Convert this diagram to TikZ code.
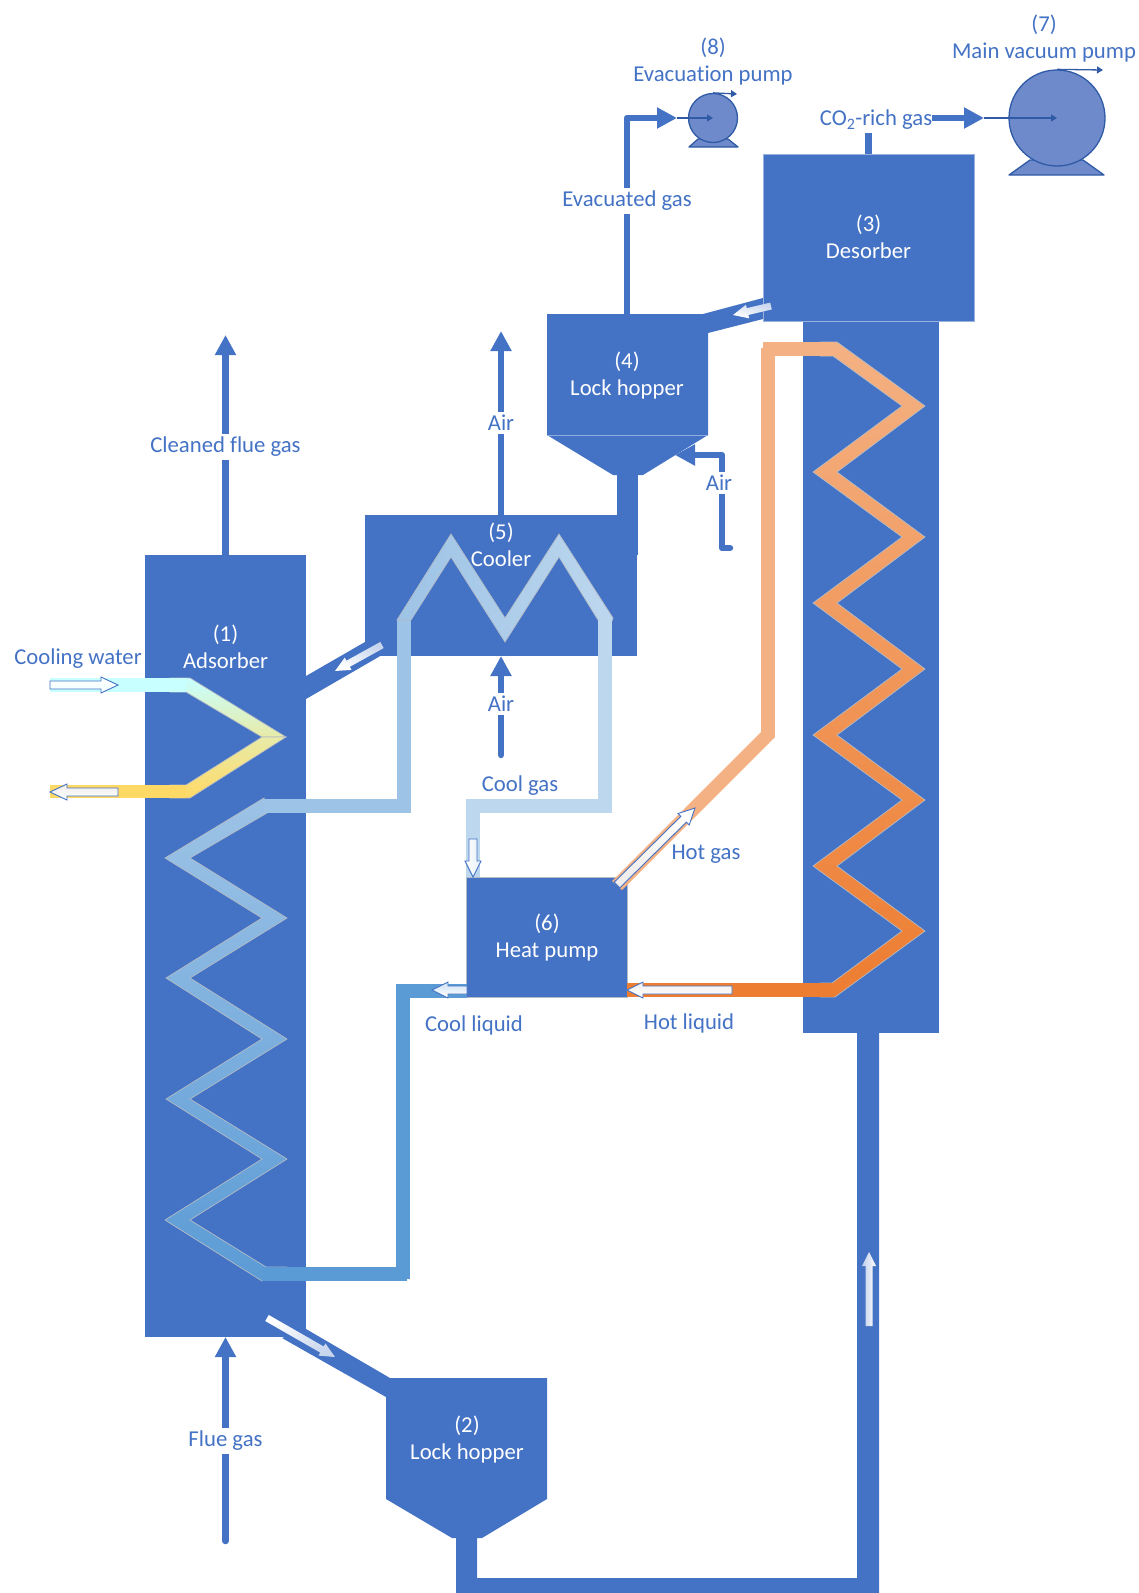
\documentclass[tikz,border=0pt]{standalone}
\usepackage{fontspec}
\setmainfont[Ligatures=CommonOff]{Carlito}
\usetikzlibrary{arrows.meta,calc}
\definecolor{mainblue}{HTML}{4472C4}
\definecolor{pumpfill}{HTML}{6F8ACB}
\definecolor{pumpline}{HTML}{2F5AA6}
\definecolor{coiledge}{HTML}{B4BBC6}
\definecolor{watercold}{HTML}{C8FFFF}
\definecolor{watermid}{HTML}{E8EBA8}
\definecolor{waterhot}{HTML}{FFD966}
\definecolor{liqcool}{HTML}{5B9BD5}
\definecolor{liqmid}{HTML}{9DC3E6}
\definecolor{gascool}{HTML}{BDD7EE}
\definecolor{gashot}{HTML}{F4B183}
\definecolor{liqhot}{HTML}{ED7D31}
\tikzset{
  unit/.style={fill=mainblue,draw=none,inner sep=0pt,outer sep=0pt},
  wtext/.style={text=white,align=center,font=\fontsize{22.7}{27}\selectfont,inner sep=0pt},
  btext/.style={text=mainblue,align=center,font=\fontsize{22.7}{27}\selectfont,inner sep=1pt},
  gaptext/.style={btext,fill=white,inner ysep=3pt,inner xsep=2pt},
  flow/.style={draw=mainblue,line width=6.5pt,line join=round,-{Triangle[width=20pt,length=20pt]}},
  flowround/.style={flow,line cap=round},
  thinflow/.style={draw=pumpline,line width=1.3pt,-{Triangle[width=7pt,length=6pt]}},
  pumpbody/.style={fill=pumpfill,draw=pumpline,line width=1.3pt,line join=round},
  coil/.style={draw=coiledge,line width=0.7pt,line join=miter},
  hollow/.style={draw=mainblue,line width=0.9pt},
}
% opts, x1,y1,x2,y2, shaft half, head half, head length
\newcommand{\blockarrow}[8]{%
  \pgfmathsetmacro\bang{atan2(-(#5-#3),#4-#2)}%
  \pgfmathsetmacro\blen{veclen(#4-#2,#5-#3)}%
  \pgfmathsetmacro\bneck{\blen-#8}%
  \begin{scope}[shift={(#2,#3)},rotate=\bang]
    \path[#1,shading angle=-\bang] (0,-#6) -- (\bneck,-#6) -- (\bneck,-#7) -- (\blen,0) -- (\bneck,#7) -- (\bneck,#6) -- (0,#6) -- cycle;
  \end{scope}}
\begin{document}
\begin{tikzpicture}[x=1pt,y=-1pt]
\useasboundingbox (0,0) rectangle (1138,1593);

% ---- bodies of the units
\node[unit,minimum width=161pt,minimum height=782pt] (adsorber) at (225.5,946) {};
\node[unit,minimum width=136pt,minimum height=713pt] (column) at (871,676.5) {};
\node[unit,minimum width=272pt,minimum height=141pt] (cooler) at (501,585.5) {};
\fill[mainblue] (617,475) rectangle (638,555);
% lock hopper 4
\fill[mainblue] (547,314) -- (708,314) -- (708,435) -- (643,475) -- (613,475) -- (547,435) -- cycle;
\draw[white!40!mainblue,line width=0.5pt] (547,435) -- (708,435);
% lock hopper 2
\fill[mainblue] (386,1378) -- (547,1378) -- (547,1499) -- (482,1538) -- (452,1538) -- (386,1499) -- cycle;
% solids transfer bands
\fill[mainblue] (306,1329) -- (390,1378) -- (386,1397) -- (282,1338) -- cycle;
\fill[mainblue] (306,676) -- (365,642) -- (382,655) -- (306,699) -- cycle;
\fill[mainblue] (703,314) -- (763,298) -- (763,319) -- (708,333) -- cycle;
% solids return pipe
\fill[mainblue] (456,1538) -- (477,1538) -- (477,1578) -- (857,1578) -- (857,1033) -- (879,1033) -- (879,1593) -- (456,1593) -- cycle;
% desorber
\fill[mainblue] (865,133) rectangle (872,154);
\node[unit,draw=white!45!mainblue,line width=1pt,minimum width=211pt,minimum height=167pt] (desorber) at (868.5,237.5) {};
% heat pump
\node[unit,draw=coiledge,line width=0.8pt,minimum width=161pt,minimum height=120pt] (heatpump) at (546.5,937) {};

% ---- cooling water coil
\path[coil,top color=watercold,bottom color=watermid]
  (170,678) -- (190,678) -- (286,737) -- (262,737) -- (186,692) -- (170,692) -- cycle;
\path[coil,top color=watermid,bottom color=waterhot]
  (170,785) -- (186,785) -- (262,737) -- (286,737) -- (190,798) -- (170,798) -- cycle;
\fill[watercold] (50,678) rectangle (186,692);
\fill[waterhot] (50,785) rectangle (186,798);

% ---- adsorber heat pump coil
\path[coil,top color=liqmid,bottom color=liqcool]
  (264,798) -- (165,858) -- (262,918) -- (166,978) -- (262,1039) -- (166,1099) -- (262,1159) -- (165,1220) -- (262,1281)
  -- (286,1267) -- (266,1267) -- (190,1220) -- (287,1159) -- (190,1099) -- (287,1039) -- (190,978) -- (287,918) -- (190,858) -- (267,813) -- cycle;
\fill[liqmid] (264,799) rectangle (411,813);
\fill[liqmid] (397,620) rectangle (411,813);
\fill[liqcool] (262,1267) rectangle (407,1281);
\fill[liqcool] (396,984) rectangle (410,1279);
\fill[liqcool] (396,984) rectangle (467,998);

% ---- cooler coil
\path[coil,left color=liqmid,right color=gascool]
  (397,620) -- (451,534) -- (505,618) -- (559,534) -- (613,618) -- (612,621) -- (598,620) -- (559,557) -- (505,642) -- (451,557) -- (411,620) -- cycle;
\fill[gascool] (598,620) rectangle (612,813);
\fill[gascool] (466,799) rectangle (612,813);
\fill[gascool] (466,799) rectangle (480,877);

% ---- desorber heat pump coil
\path[coil,top color=gashot,bottom color=liqhot]
  (837,342) -- (925,406) -- (837,472) -- (925,537) -- (837,603) -- (925,669) -- (837,735) -- (925,800) -- (837,866) -- (925,931) -- (835,997)
  -- (820,997) -- (820,983) -- (832,983) -- (902,931) -- (813,866) -- (902,800) -- (813,735) -- (902,669) -- (813,603) -- (902,537) -- (813,472) -- (902,406) -- (833,356) -- (820,356) -- (820,342) -- cycle;
\fill[gashot] (761,348) rectangle (775,737);
\fill[gashot] (763,342) rectangle (834,356);
\fill[gashot] (761,732) -- (775,737) -- (622,890) -- (612,881) -- cycle;
\fill[liqhot] (627,983) rectangle (834,997);

% ---- gas flows
\coordinate (cleanedtip) at (225.5,335);
\coordinate (fluestart) at (225.5,1541);
\coordinate (airtopTip) at (501,331);
\coordinate (airinStart) at (501,755);
\coordinate (evacTip) at (677,118);
\coordinate (co2start) at (932,118);
\coordinate (co2tip) at (984,118);
\coordinate (airhopStart) at (730,548);
\coordinate (airhopTip) at (675,455);
\draw[flow] (adsorber.north) -- (cleanedtip);
\draw[flowround] (fluestart) -- (adsorber.south);
\draw[flow] (cooler.north) -- (airtopTip);
\draw[flowround] (airinStart) -- (cooler.south);
\draw[flow] (627,315) -- (627,118) -- (evacTip);
\draw[flow] (co2start) -- (co2tip);
\draw[flowround] (airhopStart) -- (722,548) -- (722,455) -- (airhopTip);

% ---- pumps
\filldraw[pumpbody] (1009,175) -- (1104,175) -- (1083,160) -- (1030,160) -- cycle;
\node[circle,pumpbody,minimum size=96pt,inner sep=0pt] (mainpump) at (1057,118) {};
\draw[thinflow] (co2tip) -- (mainpump.center);
\coordinate (mainout) at (1103,70);
\draw[thinflow] (mainpump.north) -- (mainout);
\filldraw[pumpbody] (689,147) -- (738,147) -- (728,139) -- (698,139) -- cycle;
\node[circle,pumpbody,minimum size=49pt,inner sep=0pt] (evacpump) at (713,118) {};
\draw[thinflow] (evacTip) -- (evacpump.center);
\coordinate (evacout) at (737,94);
\draw[thinflow] (evacpump.north) -- (evacout);

% ---- block arrows
\blockarrow{hollow,left color=white,right color=watercold!25!white}{50}{685}{118}{685}{4}{8}{17}
\blockarrow{hollow,left color=white,right color=waterhot!15!gray!15!white}{118}{792}{50}{792}{4}{8}{17}
\blockarrow{hollow,left color=white,right color=gascool!40!white}{473}{839}{473}{877}{4}{8}{16}
\blockarrow{hollow,left color=white,right color=gashot!25!gray!15!white}{617}{885}{695}{808}{4}{8}{16}
\blockarrow{hollow,left color=white,right color=gashot!30!gray!15!white}{732}{990}{627}{990}{4}{8}{16}
\blockarrow{hollow,left color=white,right color=liqcool!30!white}{467}{990}{432}{990}{4}{8}{16}
\blockarrow{left color=white,right color=mainblue!30!white}{267}{1318}{335}{1357}{3.5}{7}{15}
\blockarrow{left color=white,right color=mainblue!30!white}{771}{306}{733}{315}{3.5}{7}{15}
\blockarrow{left color=white,right color=mainblue!30!white}{382}{645}{335}{671}{3.5}{7}{15}
\blockarrow{left color=white,right color=mainblue!35!white}{869}{1326}{869}{1252}{3.5}{7}{14}

% ---- labels
\node[wtext] (l1) at (225.5,647) {(1)\\Adsorber};
\node[wtext] (l2) at (467,1439.5) {(2)\\Lock hopper};
\node[wtext] (l3) at (868.5,236.5) {(3)\\Desorber};
\node[wtext] (l4) at (627,376) {(4)\\Lock hopper};
\node[wtext] (l5) at (501,544.5) {(5)\\Cooler};
\node[wtext] (l6) at (547,937.5) {(6)\\Heat pump};
\node[btext] (l7) at (1044,39) {(7)\\Main vacuum pump};
\node[btext] (l8) at (713,62) {(8)\\Evacuation pump};
\node[btext] (co2) at (876,120) {CO\textsubscript{2}-rich gas};
\node[gaptext] (evac) at (627,201) {Evacuated gas};
\node[gaptext] (cleaned) at (225.5,447) {Cleaned flue gas};
\node[gaptext] (flue) at (225.5,1441) {Flue gas};
\node[gaptext] (airtop) at (501,423) {Air};
\node[gaptext] (airlow) at (501,704) {Air};
\node[gaptext] (airhop) at (719,483) {Air};
\node[btext] (water) at (78,659) {Cooling water};
\node[btext] (coolgas) at (520,786) {Cool gas};
\node[btext] (hotgas) at (706,854) {Hot gas};
\node[btext] (coolliq) at (474,1025) {Cool liquid};
\node[btext] (hotliq) at (689,1023) {Hot liquid};
\end{tikzpicture}
\end{document}
